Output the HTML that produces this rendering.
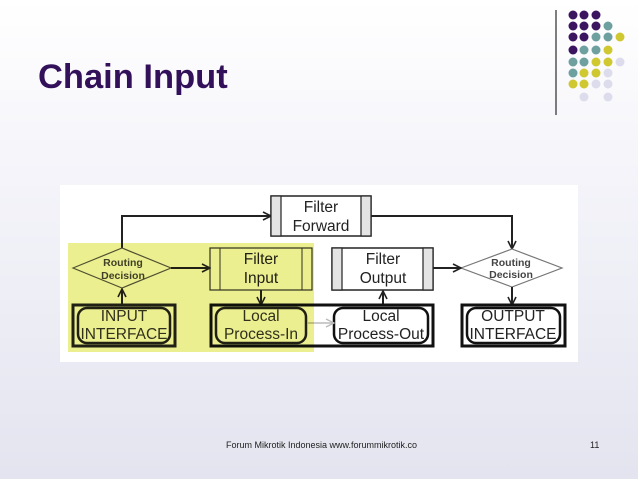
<!DOCTYPE html>
<html><head><style>
html,body{margin:0;padding:0;}
body{width:638px;height:479px;overflow:hidden;position:relative;background:linear-gradient(#ffffff 0%,#f3f3f9 40%,#e4e4f0 100%);font-family:"Liberation Sans",sans-serif;}
</style></head><body>
<svg width="638" height="479" style="position:absolute;left:0;top:0" font-family="Liberation Sans, sans-serif">
<defs>
<marker id="a" markerWidth="10" markerHeight="10" refX="9" refY="5" orient="auto" markerUnits="userSpaceOnUse"><path d="M1,1 L9,5 L1,9" fill="none" stroke="#222" stroke-width="1.6"/></marker>
<marker id="g" markerWidth="10" markerHeight="10" refX="9" refY="5" orient="auto" markerUnits="userSpaceOnUse"><path d="M1,1 L9,5 L1,9" fill="none" stroke="#bbb" stroke-width="1.4"/></marker>
</defs>
<line x1="556" y1="10" x2="556" y2="115" stroke="#000" stroke-width="1"/>
<g>
<circle cx="573" cy="15" r="4.5" fill="#3b1560"/><circle cx="584" cy="15" r="4.5" fill="#3b1560"/><circle cx="596" cy="15" r="4.5" fill="#3b1560"/>
<circle cx="573" cy="26" r="4.5" fill="#3b1560"/><circle cx="584" cy="26" r="4.5" fill="#3b1560"/><circle cx="596" cy="26" r="4.5" fill="#3b1560"/><circle cx="608" cy="26" r="4.5" fill="#6fa0a0"/>
<circle cx="573" cy="37" r="4.5" fill="#3b1560"/><circle cx="584" cy="37" r="4.5" fill="#3b1560"/><circle cx="596" cy="37" r="4.5" fill="#6fa0a0"/><circle cx="608" cy="37" r="4.5" fill="#6fa0a0"/><circle cx="620" cy="37" r="4.5" fill="#cfc830"/>
<circle cx="573" cy="50" r="4.5" fill="#3b1560"/><circle cx="584" cy="50" r="4.5" fill="#6fa0a0"/><circle cx="596" cy="50" r="4.5" fill="#6fa0a0"/><circle cx="608" cy="50" r="4.5" fill="#cfc830"/>
<circle cx="573" cy="62" r="4.5" fill="#6fa0a0"/><circle cx="584" cy="62" r="4.5" fill="#6fa0a0"/><circle cx="596" cy="62" r="4.5" fill="#cfc830"/><circle cx="608" cy="62" r="4.5" fill="#cfc830"/><circle cx="620" cy="62" r="4.5" fill="#dcdcec"/>
<circle cx="573" cy="73" r="4.5" fill="#6fa0a0"/><circle cx="584" cy="73" r="4.5" fill="#cfc830"/><circle cx="596" cy="73" r="4.5" fill="#cfc830"/><circle cx="608" cy="73" r="4.5" fill="#dcdcec"/>
<circle cx="573" cy="84" r="4.5" fill="#cfc830"/><circle cx="584" cy="84" r="4.5" fill="#cfc830"/><circle cx="596" cy="84" r="4.5" fill="#dcdcec"/><circle cx="608" cy="84" r="4.5" fill="#dcdcec"/>
<circle cx="584" cy="97" r="4.5" fill="#dcdcec"/><circle cx="608" cy="97" r="4.5" fill="#dcdcec"/>
</g>
<text x="38" y="88" font-size="34.5" font-weight="bold" fill="#32105a">Chain Input</text>

<rect x="60" y="185" width="518" height="177" fill="#fff"/>
<g stroke="#222" fill="none">
<polyline points="122,248 122,216 271,216" stroke-width="2" marker-end="url(#a)"/>
<polyline points="371,216 512,216 512,249" stroke-width="2" marker-end="url(#a)"/>
<rect x="271" y="196" width="100" height="40" fill="#fff" stroke-width="1.5"/>
<rect x="271" y="196" width="10" height="40" fill="#e4e4e4" stroke-width="1.2"/>
<rect x="361" y="196" width="10" height="40" fill="#e4e4e4" stroke-width="1.2"/>
<polygon points="73,268 122,248 171,268 122,288" stroke="#555" stroke-width="1.2"/>
<polygon points="461,268 512,249 562,268 512,287" stroke="#777" stroke-width="1.2" fill="#fff"/>
<line x1="171" y1="268" x2="210" y2="268" stroke-width="2" marker-end="url(#a)"/>
<line x1="433" y1="268" x2="461" y2="268" stroke-width="2" marker-end="url(#a)"/>
<rect x="210" y="248" width="102" height="42" stroke-width="1.2" stroke="#333"/>
<line x1="220" y1="248" x2="220" y2="290" stroke="#333"/><line x1="302" y1="248" x2="302" y2="290" stroke="#333"/>
<rect x="332" y="248" width="101" height="42" fill="#fff" stroke-width="1.5"/>
<rect x="332" y="248" width="10" height="42" fill="#e4e4e4" stroke-width="1.2"/>
<rect x="423" y="248" width="10" height="42" fill="#e4e4e4" stroke-width="1.2"/>
<line x1="122" y1="305" x2="122" y2="289" stroke-width="2" marker-end="url(#a)"/>
<line x1="261" y1="290" x2="261" y2="305" stroke-width="2" marker-end="url(#a)"/>
<line x1="383" y1="305" x2="383" y2="291" stroke-width="2" marker-end="url(#a)"/>
<line x1="512" y1="287" x2="512" y2="305" stroke-width="2" marker-end="url(#a)"/>
<rect x="73" y="305" width="102" height="41" stroke="#222" stroke-width="3"/>
<rect x="78" y="308" width="92" height="35" rx="9" stroke="#222" stroke-width="2.5"/>
<rect x="211" y="305" width="222" height="41" stroke="#111" stroke-width="3"/>
<rect x="216" y="308" width="90" height="35" rx="9" stroke="#222" stroke-width="2.5"/>
<rect x="334" y="308" width="94" height="35" rx="9" stroke="#111" stroke-width="2.5" fill="#fff"/>
<line x1="307" y1="323" x2="334" y2="323" stroke="#bbb" stroke-width="1.5" marker-end="url(#g)"/>
<rect x="462" y="305" width="103" height="41" stroke="#111" stroke-width="3"/>
<rect x="467" y="308" width="93" height="35" rx="9" stroke="#111" stroke-width="2.5"/>
</g>
<g font-size="15.5" text-anchor="middle" fill="#222">
<text x="321" y="212">Filter</text><text x="321" y="231">Forward</text>
<text x="261" y="264">Filter</text><text x="261" y="283">Input</text>
<text x="383" y="264">Filter</text><text x="383" y="283">Output</text>
<text x="124" y="321" fill="#333">INPUT</text><text x="124" y="339" fill="#333">INTERFACE</text>
<text x="261" y="321" fill="#333">Local</text><text x="261" y="339" fill="#333">Process-In</text>
<text x="381" y="321">Local</text><text x="381" y="339">Process-Out</text>
<text x="513" y="321">OUTPUT</text><text x="513" y="339">INTERFACE</text>
</g>
<g font-size="10.5" text-anchor="middle" fill="#444" font-weight="bold">
<text x="123" y="266">Routing</text><text x="123" y="279">Decision</text>
<text x="511" y="266">Routing</text><text x="511" y="278">Decision</text>
</g>
<rect x="68" y="243" width="246" height="109" fill="#e6ea6a" style="mix-blend-mode:multiply" opacity="0.75"/>
<text x="226" y="448" font-size="9" fill="#222">Forum Mikrotik Indonesia www.forummikrotik.co</text>
<text x="590" y="448" font-size="9" fill="#222">11</text>
</svg>
</body></html>
